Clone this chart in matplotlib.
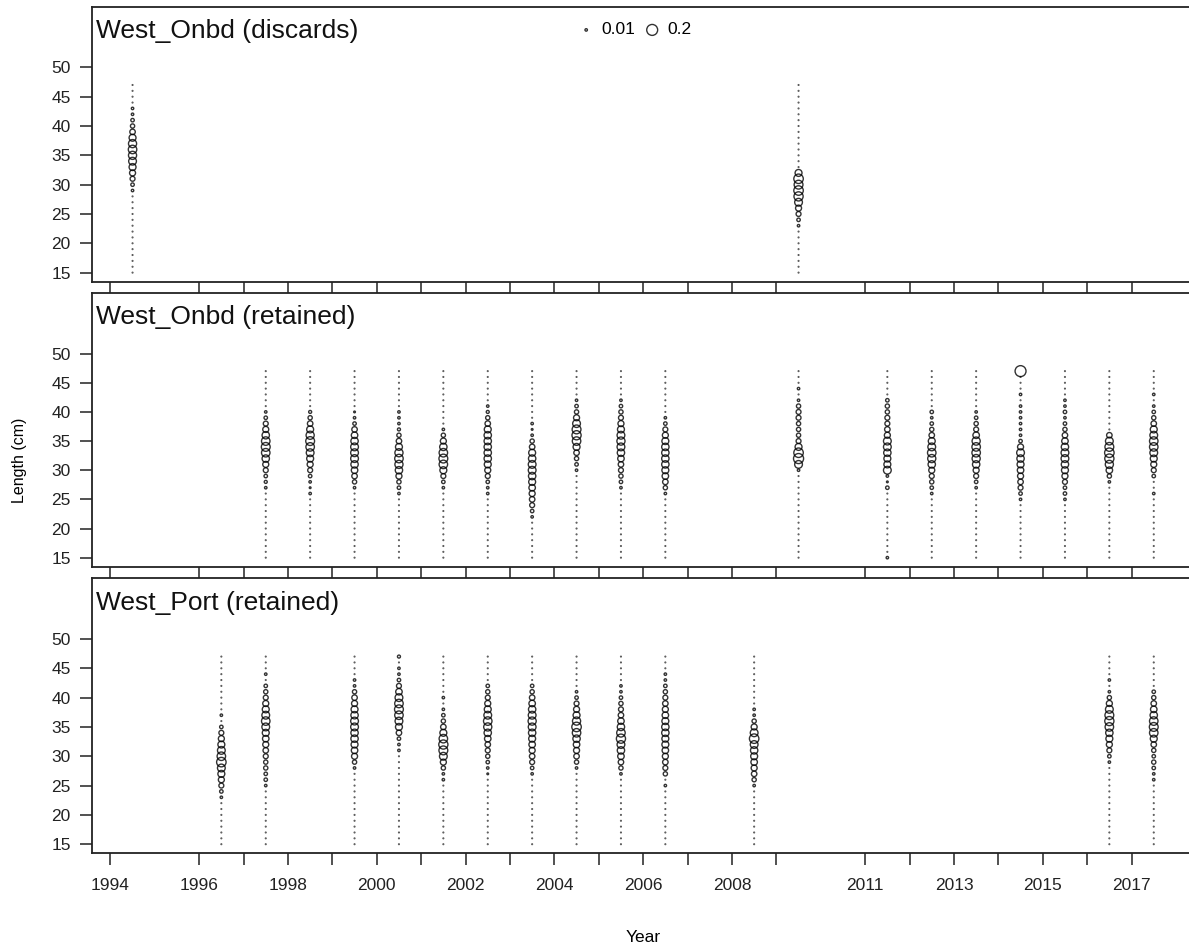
import numpy as np
import matplotlib.pyplot as plt

plt.rcParams['font.family'] = ['Liberation Sans', 'DejaVu Sans']

# length bins (cm) and tick years
length_bins = np.arange(15, 48)
tick_years = [1994, 1996, 1997, 1998, 1999, 2000, 2001, 2002, 2003, 2004, 2005,
              2006, 2007, 2008, 2009, 2011, 2012, 2013, 2014, 2015, 2016, 2017]
tick_labels = ['1994', '1996', '', '1998', '', '2000', '', '2002', '', '2004', '',
               '2006', '', '2008', '', '2011', '', '2013', '', '2015', '', '2017']

# composition per year: (first length bin, proportions from that bin upward)
onbd_discards = {
    1994.5: (29, [0.01, 0.02, 0.04, 0.06, 0.08, 0.10, 0.11, 0.12, 0.11, 0.08, 0.05, 0.03, 0.02, 0.01, 0.01]),
    2009.5: (23, [0.01, 0.02, 0.04, 0.06, 0.10, 0.14, 0.15, 0.13, 0.15, 0.08]),
}

onbd_retained = {
    1997.5: (27, [0.01, 0.015, 0.02, 0.04, 0.06, 0.09, 0.12, 0.13, 0.12, 0.09, 0.06, 0.04, 0.02, 0.01]),
    1998.5: (26, [0.01, 0.005, 0.01, 0.02, 0.04, 0.06, 0.08, 0.10, 0.12, 0.13, 0.11, 0.08, 0.05, 0.03, 0.015]),
    1999.5: (27, [0.01, 0.03, 0.05, 0.07, 0.09, 0.10, 0.10, 0.10, 0.09, 0.07, 0.05, 0.02, 0.01, 0.005]),
    2000.5: (26, [0.01, 0.02, 0.03, 0.06, 0.09, 0.11, 0.12, 0.11, 0.08, 0.05, 0.03, 0.015, 0.01, 0.01, 0.01]),
    2001.5: (27, [0.01, 0.02, 0.04, 0.08, 0.12, 0.13, 0.12, 0.09, 0.06, 0.03, 0.01]),
    2002.5: (26, [0.01, 0.01, 0.02, 0.04, 0.06, 0.08, 0.09, 0.09, 0.09, 0.09, 0.09, 0.08, 0.05, 0.03, 0.015, 0.01]),
    2003.5: (22, [0.01, 0.02, 0.04, 0.05, 0.06, 0.07, 0.08, 0.09, 0.10, 0.10, 0.09, 0.08, 0.05, 0.03, 0.01, 0.005, 0.01]),
    2004.5: (30, [0.01, 0.02, 0.03, 0.05, 0.08, 0.12, 0.14, 0.13, 0.10, 0.06, 0.03, 0.02, 0.01]),
    2005.5: (27, [0.01, 0.02, 0.03, 0.04, 0.05, 0.07, 0.09, 0.10, 0.11, 0.10, 0.08, 0.06, 0.04, 0.03, 0.02, 0.01]),
    2006.5: (26, [0.01, 0.03, 0.05, 0.07, 0.08, 0.09, 0.09, 0.09, 0.09, 0.08, 0.06, 0.04, 0.02, 0.01]),
    2009.5: (30, [0.01, 0.10, 0.17, 0.15, 0.08, 0.04, 0.03, 0.03, 0.03, 0.04, 0.04, 0.03, 0.01, 0, 0.01]),
    2011.5: (15, [0.01, 0, 0, 0, 0, 0, 0, 0, 0, 0, 0, 0, 0.02, 0.005, 0.01, 0.10, 0.08, 0.08,
                  0.09, 0.10, 0.10, 0.06, 0.05, 0.04, 0.04, 0.03, 0.03, 0.02]),
    2012.5: (26, [0.01, 0.02, 0.03, 0.04, 0.06, 0.09, 0.11, 0.12, 0.10, 0.08, 0.05, 0.03, 0.02, 0.01, 0.02]),
    2013.5: (27, [0.01, 0.02, 0.04, 0.06, 0.09, 0.11, 0.12, 0.12, 0.11, 0.07, 0.04, 0.03, 0.02, 0.01]),
    2014.5: (25, [0.01, 0.02, 0.04, 0.05, 0.06, 0.07, 0.08, 0.09, 0.10, 0.06, 0.02, 0.01, 0.01, 0.01,
                  0.01, 0.01, 0.01, 0, 0.01, 0, 0, 0, 0.20]),
    2015.5: (25, [0.01, 0.02, 0.02, 0.04, 0.06, 0.08, 0.09, 0.10, 0.10, 0.09, 0.07, 0.05, 0.03, 0.02, 0.01, 0.02, 0.01, 0.01]),
    2016.5: (28, [0.01, 0.03, 0.07, 0.11, 0.14, 0.15, 0.13, 0.10, 0.05]),
    2017.5: (26, [0.01, 0, 0, 0.02, 0.04, 0.06, 0.08, 0.10, 0.12, 0.12, 0.10, 0.08, 0.05, 0.03, 0.02, 0.01, 0, 0.01]),
}

port_retained = {
    1996.5: (23, [0.01, 0.02, 0.04, 0.06, 0.08, 0.10, 0.15, 0.12, 0.10, 0.08, 0.06, 0.04, 0.02, 0, 0.01]),
    1997.5: (25, [0.01, 0.02, 0.02, 0.03, 0.03, 0.04, 0.05, 0.06, 0.07, 0.08, 0.10, 0.12, 0.10, 0.08,
                  0.06, 0.04, 0.03, 0.02, 0, 0.01]),
    1999.5: (28, [0.01, 0.03, 0.06, 0.07, 0.08, 0.09, 0.09, 0.10, 0.10, 0.09, 0.08, 0.06, 0.05, 0.03, 0.01, 0.01]),
    2000.5: (31, [0.01, 0.01, 0.02, 0.05, 0.08, 0.10, 0.12, 0.13, 0.12, 0.10, 0.07, 0.04, 0.02, 0.01, 0.01, 0, 0.015]),
    2001.5: (26, [0.01, 0.01, 0.03, 0.06, 0.10, 0.13, 0.14, 0.12, 0.08, 0.05, 0.03, 0.02, 0.01, 0, 0.01]),
    2002.5: (27, [0.005, 0.01, 0.02, 0.03, 0.04, 0.05, 0.07, 0.09, 0.11, 0.12, 0.10, 0.08, 0.06, 0.04, 0.03, 0.02]),
    2003.5: (27, [0.01, 0.02, 0.04, 0.05, 0.06, 0.07, 0.08, 0.09, 0.10, 0.11, 0.10, 0.09, 0.07, 0.05, 0.03, 0.02]),
    2004.5: (28, [0.01, 0.03, 0.05, 0.06, 0.07, 0.09, 0.12, 0.15, 0.11, 0.08, 0.06, 0.04, 0.02, 0.01]),
    2005.5: (27, [0.01, 0.03, 0.05, 0.07, 0.09, 0.10, 0.14, 0.12, 0.09, 0.07, 0.05, 0.04, 0.03, 0.02, 0.01, 0.01]),
    2006.5: (25, [0.01, 0, 0.03, 0.04, 0.05, 0.06, 0.07, 0.08, 0.08, 0.09, 0.09, 0.08, 0.07, 0.06,
                  0.05, 0.04, 0.03, 0.02, 0.01, 0.01]),
    2008.5: (25, [0.01, 0.03, 0.05, 0.06, 0.07, 0.08, 0.09, 0.10, 0.15, 0.10, 0.06, 0.03, 0.01, 0.01]),
    2016.5: (29, [0.01, 0.02, 0.04, 0.06, 0.08, 0.09, 0.12, 0.14, 0.13, 0.10, 0.06, 0.03, 0.01, 0, 0.01]),
    2017.5: (26, [0.01, 0.01, 0.02, 0.03, 0.02, 0.03, 0.05, 0.08, 0.12, 0.13, 0.12, 0.09, 0.07, 0.05, 0.03, 0.02]),
}

panel_titles = ['West_Onbd (discards)', 'West_Onbd (retained)', 'West_Port (retained)']
panel_data = [onbd_discards, onbd_retained, port_retained]

legend_values = [0.01, 0.2]


def full_comp(start, vals):
    comp = np.zeros(len(length_bins))
    i0 = start - length_bins[0]
    comp[i0:i0 + len(vals)] = vals
    return comp


W, H = 1189, 951
fig = plt.figure(figsize=(W / 100, H / 100), dpi=100)

# panel boxes in pixels (top, bottom)
boxes = [(6.7, 281.7), (293.3, 566.7), (578.3, 853.3)]
left_px, right_px = 91.7, 1194.6
s_per_unit = 310  # marker area per unit proportion
ring = (0, 0, 0, 0.8)

for i, (title, comps) in enumerate(zip(panel_titles, panel_data)):
    top, bot = boxes[i]
    ax = fig.add_axes([left_px / W, 1 - bot / H, (right_px - left_px) / W, (bot - top) / H])

    for yr, (start, vals) in comps.items():
        comp = full_comp(start, vals)
        x = np.full(len(length_bins), yr)
        zero = comp == 0
        ax.scatter(x[zero], length_bins[zero], s=0.8, marker='o', facecolors='none',
                   edgecolors='#505050', linewidths=0.6)
        ax.scatter(x[~zero], length_bins[~zero], s=comp[~zero] * s_per_unit, marker='o',
                   facecolors='none', edgecolors=ring, linewidths=1.0)

    ax.set_xlim(1993.58, 2018.42)
    ax.set_ylim(13.45, 60.35)
    ax.set_yticks([15, 20, 25, 30, 35, 40, 45, 50])
    ax.set_xticks(tick_years)
    if i == 2:
        ax.set_xticklabels(tick_labels)
    else:
        ax.set_xticklabels([])
    ax.tick_params(axis='both', direction='out', length=8.5, width=1.1, labelsize=12.5, colors='#222222')
    ax.tick_params(axis='y', pad=6.5)
    ax.tick_params(axis='x', pad=9.5)
    for side in ['left', 'bottom', 'top']:
        ax.spines[side].set_linewidth(1.3)
        ax.spines[side].set_color('#222222')
    ax.spines['right'].set_visible(False)

    ax.text(0.004, 0.886, title, transform=ax.transAxes, ha='left', va='baseline',
            fontsize=19, color='#111111')

    if i == 0:
        handles = [ax.scatter([], [], s=v * s_per_unit, marker='o', facecolors='none',
                              edgecolors=ring, linewidths=1.0) for v in legend_values]
        ax.legend(handles, [str(v) for v in legend_values], loc='upper center',
                  bbox_to_anchor=(0.49, 1.0), ncol=2, frameon=False, fontsize=12.5,
                  handlelength=1.6, handletextpad=0.1, columnspacing=0.15,
                  scatterpoints=1, borderaxespad=0.5)

fig.text(20 / W, 1 - 460 / H, 'Length (cm)', rotation=90, ha='center', va='center', fontsize=11.5)
fig.text(643 / W, 1 - 937 / H, 'Year', ha='center', va='center', fontsize=12.5)

fig.savefig('out.png', dpi=100)
